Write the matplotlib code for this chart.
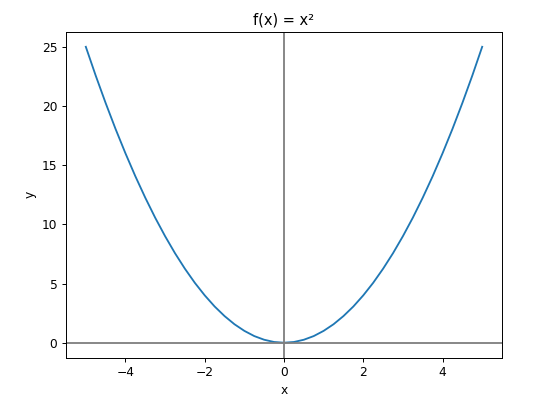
import matplotlib
matplotlib.use("Agg")
import matplotlib.pyplot as plt

# values
x_vals = [-5.0, -4.75, -4.5, -4.25, -4.0, -3.75, -3.5, -3.25, -3.0, -2.75,
          -2.5, -2.25, -2.0, -1.75, -1.5, -1.25, -1.0, -0.75, -0.5, -0.25,
          0.0, 0.25, 0.5, 0.75, 1.0, 1.25, 1.5, 1.75, 2.0, 2.25,
          2.5, 2.75, 3.0, 3.25, 3.5, 3.75, 4.0, 4.25, 4.5, 4.75, 5.0]
y_vals = [25.0, 22.56, 20.25, 18.06, 16.0, 14.06, 12.25, 10.56, 9.0, 7.56,
          6.25, 5.06, 4.0, 3.06, 2.25, 1.56, 1.0, 0.56, 0.25, 0.06,
          0.0, 0.06, 0.25, 0.56, 1.0, 1.56, 2.25, 3.06, 4.0, 5.06,
          6.25, 7.56, 9.0, 10.56, 12.25, 14.06, 16.0, 18.06, 20.25, 22.56, 25.0]

dpi = 88
fig = plt.figure(figsize=(541 / dpi, 398 / dpi), dpi=dpi)
ax = fig.add_axes([66 / 541, 1 - 357.5 / 398, (502 - 66) / 541, (357.5 - 32) / 398])

ax.plot(x_vals, y_vals)
ax.axhline(0, color='gray')
ax.axvline(0, color='gray')

ax.set_title('f(x) = x²')
ax.set_xlabel('x')
ax.set_ylabel('y')

fig.savefig('out.png', dpi=dpi)
